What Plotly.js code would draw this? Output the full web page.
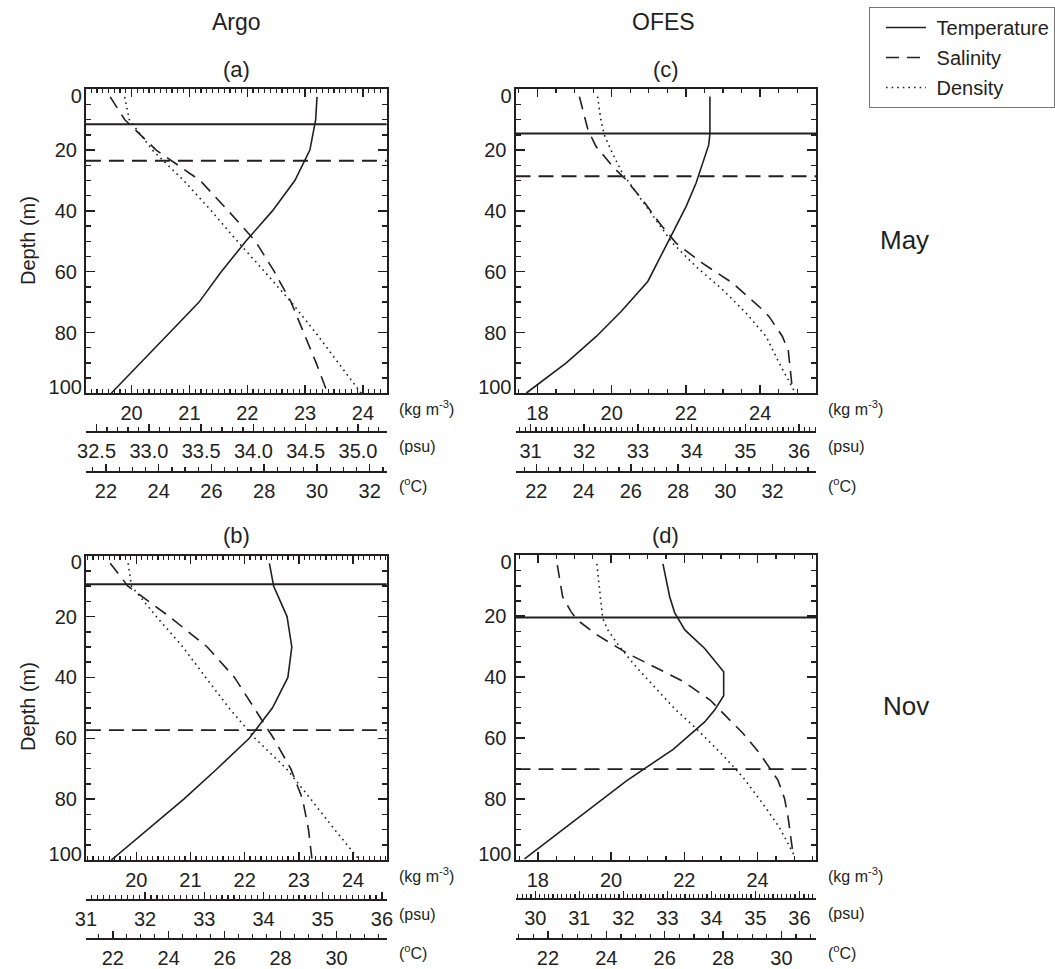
<!DOCTYPE html>
<html><head><meta charset="utf-8">
<script src="https://cdn.plot.ly/plotly-3.0.1.min.js"></script>
<style>html,body{margin:0;padding:0;background:#fff}#chart{width:1055px;height:969px}</style>
</head><body><div id="chart"></div>
<script>
// ---------------- data ----------------
const argoDepth = [2.5, 10, 20, 30, 40, 50, 60, 70, 80, 90, 100];
const argoMayTemp = [30.00, 29.95, 29.73, 29.16, 28.31, 27.30, 26.37, 25.53, 24.42, 23.29, 22.20];
const argoMaySal  = [32.63, 32.77, 33.07, 33.49, 33.76, 34.02, 34.20, 34.36, 34.48, 34.60, 34.71];
const argoMayDen  = [19.88, 19.96, 20.36, 20.90, 21.38, 21.83, 22.30, 22.76, 23.18, 23.58, 23.97];
const argoNovTemp = [27.60, 27.75, 28.23, 28.40, 28.26, 27.71, 26.88, 25.73, 24.54, 23.23, 21.95];
const argoNovSal  = [31.41, 31.71, 32.41, 33.05, 33.51, 33.84, 34.17, 34.46, 34.66, 34.76, 34.82];
const argoNovDen  = [19.85, 19.91, 20.37, 20.86, 21.28, 21.71, 22.19, 22.77, 23.22, 23.66, 24.12];

const ofesMayTempDepth = [2.4, 14.5, 18.3, 24.3, 30.9, 38.6, 45.1, 51.7, 58.3, 63.2, 73.1, 81.3, 90.0, 99.9];
const ofesMayTemp      = [29.35, 29.35, 29.30, 29.04, 28.76, 28.34, 27.92, 27.49, 27.07, 26.72, 25.59, 24.54, 23.27, 21.58];
const ofesMaySalDepth  = [2.4, 9.0, 13.4, 18.8, 25.4, 29.8, 36.4, 44.0, 50.6, 57.2, 63.7, 72.5, 74.7, 81.3, 86.0, 99.5];
const ofesMaySal       = [31.91, 32.00, 32.07, 32.22, 32.53, 32.78, 33.09, 33.40, 33.71, 34.20, 34.76, 35.32, 35.44, 35.69, 35.80, 35.88];
const ofesMayDenDepth  = [2.4, 10.1, 15.0, 21.0, 27.6, 35.3, 42.9, 50.6, 58.3, 65.9, 73.6, 81.3, 90.0, 99.3];
const ofesMayDen       = [19.62, 19.71, 19.80, 20.02, 20.29, 20.74, 21.19, 21.64, 22.27, 22.99, 23.62, 24.16, 24.51, 24.92];

const ofesNovTempDepth = [2.8, 13.6, 18.8, 24.5, 30.6, 38.2, 46.1, 50.8, 54.7, 63.7, 74.0, 99.6];
const ofesNovTemp      = [25.94, 26.17, 26.34, 26.69, 27.37, 28.02, 28.02, 27.71, 27.37, 26.29, 24.69, 21.20];
const ofesNovSalDepth  = [3.2, 13.6, 18.5, 21.2, 26.2, 32.2, 36.0, 41.5, 47.5, 54.1, 58.5, 65.1, 70.5, 73.8, 79.8, 85.9, 93.5, 98.5];
const ofesNovSal       = [30.50, 30.62, 30.81, 30.95, 31.41, 32.09, 32.62, 33.37, 33.97, 34.42, 34.72, 35.10, 35.36, 35.51, 35.66, 35.74, 35.81, 35.86];
const ofesNovDenDepth  = [2.8, 11.4, 20.7, 24.5, 30.0, 36.6, 43.7, 50.8, 56.8, 65.6, 72.7, 81.5, 89.2, 98.5];
const ofesNovDen       = [19.61, 19.68, 19.77, 19.91, 20.23, 20.68, 21.23, 21.77, 22.32, 23.05, 23.59, 24.14, 24.59, 25.00];

// mixed layer depths (m): solid line, dashed line
const mldSolid  = {argoMay: 11.5, ofesMay: 14.5, argoNov: 9.4, ofesNov: 20.4};
const mldDashed = {argoMay: 23.5, ofesMay: 28.6, argoNov: 57.3, ofesNov: 70.2};

const depthTicks = [0, 20, 40, 60, 80, 100];
const panelTitles = ['(a)', '(c)', '(b)', '(d)'];
const seriesNames = ['Temperature', 'Salinity', 'Density'];
const columnTitles = ['Argo', 'OFES'];
const rowTitles = ['May', 'Nov'];
const unitLabels = ['(kg m<sup>-3</sup>)', '(psu)', '(<sup>o</sup>C)'];

// ---------------- layout helpers ----------------
const W = 1055, H = 969;
const FONT = 'Liberation Sans, Arial, Helvetica, sans-serif';
const INK = '#231f20';
const fx = p => p / W, fy = p => 1 - p / H;

const panels = [
  {key:'argoMay', tD:argoDepth, T:argoMayTemp, sD:argoDepth, S:argoMaySal, dD:argoDepth, D:argoMayDen,
   box:[86, 387, 89.3, 393.3], salPos:432, tempPos:472,
   den:{range:[19.21, 24.41], dtick:1, minor:0.1}, sal:{range:[32.398, 35.274], dtick:0.5, minor:0.1, fmt:'.1f'},
   tem:{range:[21.24, 32.64], dtick:2, minor:0.5}},
  {key:'ofesMay', tD:ofesMayTempDepth, T:ofesMayTemp, sD:ofesMaySalDepth, S:ofesMaySal, dD:ofesMayDenDepth, D:ofesMayDen,
   box:[516, 817, 89.3, 393.3], salPos:432, tempPos:472,
   den:{range:[17.41, 25.51], dtick:2, minor:0.5}, sal:{range:[30.72, 36.32], dtick:1, minor:0.1, fmt:'d'},
   tem:{range:[21.12, 33.85], dtick:2, minor:0.5}},
  {key:'argoNov', tD:argoDepth, T:argoNovTemp, sD:argoDepth, S:argoNovSal, dD:argoDepth, D:argoNovDen,
   box:[86, 387, 555.7, 860], salPos:900, tempPos:938.5,
   den:{range:[19.07, 24.62], dtick:1, minor:0.1}, sal:{range:[31.0, 36.08], dtick:1, minor:0.1, fmt:'d'},
   tem:{range:[21.04, 31.79], dtick:2, minor:0.5}},
  {key:'ofesNov', tD:ofesNovTempDepth, T:ofesNovTemp, sD:ofesNovSalDepth, S:ofesNovSal, dD:ofesNovDenDepth, D:ofesNovDen,
   box:[516, 817, 555.3, 860], salPos:899, tempPos:938.5,
   den:{range:[17.39, 25.60], dtick:2, minor:0.5}, sal:{range:[29.55, 36.38], dtick:1, minor:0.1, fmt:'d'},
   tem:{range:[20.89, 31.19], dtick:2, minor:0.5}},
];

const tickFont = {family: FONT, size: 20, color: INK};
const data = [];
const layout = {
  width: W, height: H, margin: {l:0, r:0, t:0, b:0},
  paper_bgcolor: '#fff', plot_bgcolor: 'rgba(0,0,0,0)',
  font: {family: FONT, color: INK},
  showlegend: true,
  legend: {x: fx(870), y: fy(7), xanchor: 'left', yanchor: 'top', bgcolor: '#fff',
           bordercolor: '#777', borderwidth: 1, font: {family: FONT, size: 20, color: INK},
           itemwidth: 40, indentation: 11, traceorder: 'grouped', tracegroupgap: 1},
  shapes: [], annotations: []
};

const axName = (n) => n === 1 ? '' : String(n);
const lineStyles = {
  T: {color: INK, width: 1.6},
  S: {color: INK, width: 1.6, dash: '13px,8px'},
  D: {color: INK, width: 1.6, dash: '1.6px,4px'}
};
const NB = '\u00a0';

panels.forEach((p, i) => {
  const dN = 3*i + 1, sN = 3*i + 2, tN = 3*i + 3, yN = i + 1, ylN = i + 5;
  const dId = 'x' + axName(dN), sId = 'x' + axName(sN), tId = 'x' + axName(tN);
  const yId = 'y' + axName(yN), ylId = 'y' + axName(ylN);
  const [l, r, t, b] = p.box;
  const inner = depthTicks.slice(1, -1);

  layout['yaxis' + axName(yN)] = {
    domain: [fy(b), fy(t)], anchor: dId, range: [100, 0], autorange: false,
    showline: true, linewidth: 2, linecolor: INK, mirror: 'ticks',
    ticks: 'inside', ticklen: 9, tickwidth: 1.5, tickcolor: INK,
    tickmode: 'array', tickvals: inner, ticktext: inner.map(String),
    minor: {ticks: 'inside', tickmode: 'linear', tick0: 0, dtick: 5, ticklen: 5, tickwidth: 1.5, tickcolor: INK},
    tickfont: tickFont, showgrid: false, zeroline: false, ticklabelstandoff: 3
  };
  // end labels (0 and 100) sit just inside the frame, as in the reference
  layout['yaxis' + axName(ylN)] = {
    overlaying: yId, anchor: dId, side: 'left', range: [100, 0], autorange: false,
    tickmode: 'array', tickvals: [2.2, 97.9], ticktext: [String(depthTicks[0]), String(depthTicks[depthTicks.length - 1])],
    ticks: '', showline: false, showgrid: false, zeroline: false, tickfont: tickFont, ticklabelstandoff: 3
  };
  layout['xaxis' + axName(dN)] = {
    domain: [fx(l), fx(r)], anchor: yId, range: p.den.range, autorange: false,
    showline: true, linewidth: 2, linecolor: INK, mirror: 'ticks',
    ticks: 'inside', ticklen: 8, tickwidth: 1.5, tickcolor: INK, tickmode: 'linear', tick0: 0, dtick: p.den.dtick,
    minor: {ticks: 'inside', tickmode: 'linear', tick0: 0, dtick: p.den.minor, ticklen: 4, tickwidth: 1.2, tickcolor: INK},
    tickfont: tickFont, showgrid: false, zeroline: false, ticklabelstandoff: 1
  };
  layout['xaxis' + axName(sN)] = {
    overlaying: dId, anchor: 'free', position: fy(p.salPos), side: 'bottom', range: p.sal.range, autorange: false,
    showline: true, linewidth: 2, linecolor: INK,
    ticks: 'inside', ticklen: 7, tickwidth: 1.5, tickcolor: INK, tickmode: 'linear', tick0: 0, dtick: p.sal.dtick, tickformat: p.sal.fmt,
    minor: {ticks: 'inside', tickmode: 'linear', tick0: 0, dtick: p.sal.minor, ticklen: 4, tickwidth: 1.2, tickcolor: INK},
    tickfont: tickFont, showgrid: false, zeroline: false, ticklabelstandoff: 1
  };
  layout['xaxis' + axName(tN)] = {
    overlaying: dId, anchor: 'free', position: fy(p.tempPos), side: 'bottom', range: p.tem.range, autorange: false,
    showline: true, linewidth: 2, linecolor: INK,
    ticks: 'inside', ticklen: 7, tickwidth: 1.5, tickcolor: INK, tickmode: 'linear', tick0: 0, dtick: p.tem.dtick,
    minor: {ticks: 'inside', tickmode: 'linear', tick0: 0, dtick: p.tem.minor, ticklen: 4, tickwidth: 1.2, tickcolor: INK},
    tickfont: tickFont, showgrid: false, zeroline: false, ticklabelstandoff: 1
  };

  const legendOn = i === 0;
  data.push({type:'scatter', mode:'lines', x:p.T, y:p.tD, xaxis:tId, yaxis:yId, line:lineStyles.T,
             name:NB + seriesNames[0], legendgroup:'gT', showlegend:legendOn, hoverinfo:'skip'});
  data.push({type:'scatter', mode:'lines', x:p.S, y:p.sD, xaxis:sId, yaxis:yId, line:lineStyles.S,
             name:NB + seriesNames[1], legendgroup:'gS', showlegend:legendOn, hoverinfo:'skip'});
  data.push({type:'scatter', mode:'lines', x:p.D, y:p.dD, xaxis:dId, yaxis:yId, line:lineStyles.D,
             name:NB + seriesNames[2], legendgroup:'gD', showlegend:legendOn, hoverinfo:'skip'});
  // invisible anchor for the end-label axis
  data.push({type:'scatter', mode:'none', x:[p.den.range[0]], y:[50], xaxis:dId, yaxis:ylId, showlegend:false, hoverinfo:'skip'});

  layout.shapes.push({type:'line', xref: dId + ' domain', yref: yId, x0:0, x1:1, y0:mldSolid[p.key], y1:mldSolid[p.key],
                      line:{color:INK, width:2}});
  layout.shapes.push({type:'line', xref: dId + ' domain', yref: yId, x0:0, x1:1, y0:mldDashed[p.key], y1:mldDashed[p.key],
                      line:{color:INK, width:1.8, dash:'15px,8px'}});

  // panel title
  layout.annotations.push({xref:'paper', yref:'paper', x: fx((l + r) / 2), y: fy(t - 20), text: panelTitles[i],
                           showarrow:false, font:{family:FONT, size:22, color:INK}, xanchor:'center', yanchor:'middle'});
  // unit labels
  const ux = r + 10;
  const unitY = [b + 15, p.salPos + 14, p.tempPos + 13];
  unitLabels.forEach((u, k) => layout.annotations.push({xref:'paper', yref:'paper', x: fx(ux), y: fy(unitY[k]), text: u,
     showarrow:false, font:{family:FONT, size:16, color:INK}, xanchor:'left', yanchor:'middle'}));
});

// column / row titles and depth labels
layout.annotations.push({xref:'paper', yref:'paper', x: fx(237), y: fy(22), text: columnTitles[0], showarrow:false,
  font:{family:FONT, size:23, color:INK}, xanchor:'center', yanchor:'middle'});
layout.annotations.push({xref:'paper', yref:'paper', x: fx(664), y: fy(22), text: columnTitles[1], showarrow:false,
  font:{family:FONT, size:23, color:INK}, xanchor:'center', yanchor:'middle'});
layout.annotations.push({xref:'paper', yref:'paper', x: fx(905), y: fy(240), text: rowTitles[0], showarrow:false,
  font:{family:FONT, size:26, color:INK}, xanchor:'center', yanchor:'middle'});
layout.annotations.push({xref:'paper', yref:'paper', x: fx(907), y: fy(706), text: rowTitles[1], showarrow:false,
  font:{family:FONT, size:26, color:INK}, xanchor:'center', yanchor:'middle'});
[240, 706].forEach(yc => layout.annotations.push({xref:'paper', yref:'paper', x: fx(28), y: fy(yc), text:'Depth (m)',
  textangle:-90, showarrow:false, font:{family:FONT, size:20, color:INK}, xanchor:'center', yanchor:'middle'}));

Plotly.newPlot('chart', data, layout, {staticPlot: true, displayModeBar: false});
</script>
</body></html>
